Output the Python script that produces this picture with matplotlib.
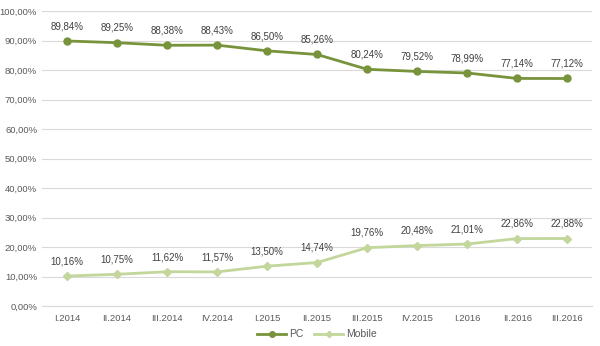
import numpy as np
from matplotlib import pyplot as plt
from matplotlib.ticker import FuncFormatter

quarters = ['I.2014', 'II.2014', 'III.2014', 'IV.2014', 'I.2015', 'II.2015',
            'III.2015', 'IV.2015', 'I.2016', 'II.2016', 'III.2016']
pc = [89.84, 89.25, 88.38, 88.43, 86.50, 85.26, 80.24, 79.52, 78.99, 77.14, 77.12]
mobile = [10.16, 10.75, 11.62, 11.57, 13.50, 14.74, 19.76, 20.48, 21.01, 22.86, 22.88]

pc_color = '#77933C'
mobile_color = '#C3D69B'
text_color = '#595959'

plt.rcParams['font.family'] = ['Liberation Sans', 'DejaVu Sans']


def pct(v):
    return ('%.2f%%' % v).replace('.', ',')


fig = plt.figure(figsize=(6, 3.46), dpi=100)
ax = fig.add_axes([0.07, 0.1156, 0.917, 0.8526])
x = np.arange(len(quarters))

ax.plot(x, pc, color=pc_color, lw=2.0, marker='o', ms=5, label='PC')
ax.plot(x, mobile, color=mobile_color, lw=2.0, marker='D', ms=4, label='Mobile')

for xi, v in zip(x, pc):
    ax.annotate(pct(v), (xi, v), xytext=(0, 7), textcoords='offset points',
                ha='center', va='bottom', fontsize=7, color='#404040')
for xi, v in zip(x, mobile):
    ax.annotate(pct(v), (xi, v), xytext=(0, 7), textcoords='offset points',
                ha='center', va='bottom', fontsize=7, color='#404040')

ax.set_xlim(-0.5, len(quarters) - 0.5)
ax.set_ylim(0, 100)
ax.set_yticks(np.arange(0, 101, 10))
ax.yaxis.set_major_formatter(FuncFormatter(lambda v, p: pct(v)))
ax.set_xticks(x)
ax.set_xticklabels(quarters)
ax.tick_params(length=0, labelsize=6.8, colors=text_color)
ax.tick_params(axis='y', pad=3.5)
ax.tick_params(axis='x', pad=6)
ax.grid(axis='y', color='#D9D9D9', lw=0.8)
ax.set_axisbelow(True)
for s in ['top', 'right', 'left']:
    ax.spines[s].set_visible(False)
ax.spines['bottom'].set_color('#D9D9D9')

ax.legend(loc='upper center', bbox_to_anchor=(0.5, -0.065), ncol=2, frameon=False,
          fontsize=7.5, labelcolor=text_color, handlelength=2.8, columnspacing=1.0,
          handletextpad=0.3, borderaxespad=0, markerscale=0.8)

plt.savefig('out.png', dpi=100)
